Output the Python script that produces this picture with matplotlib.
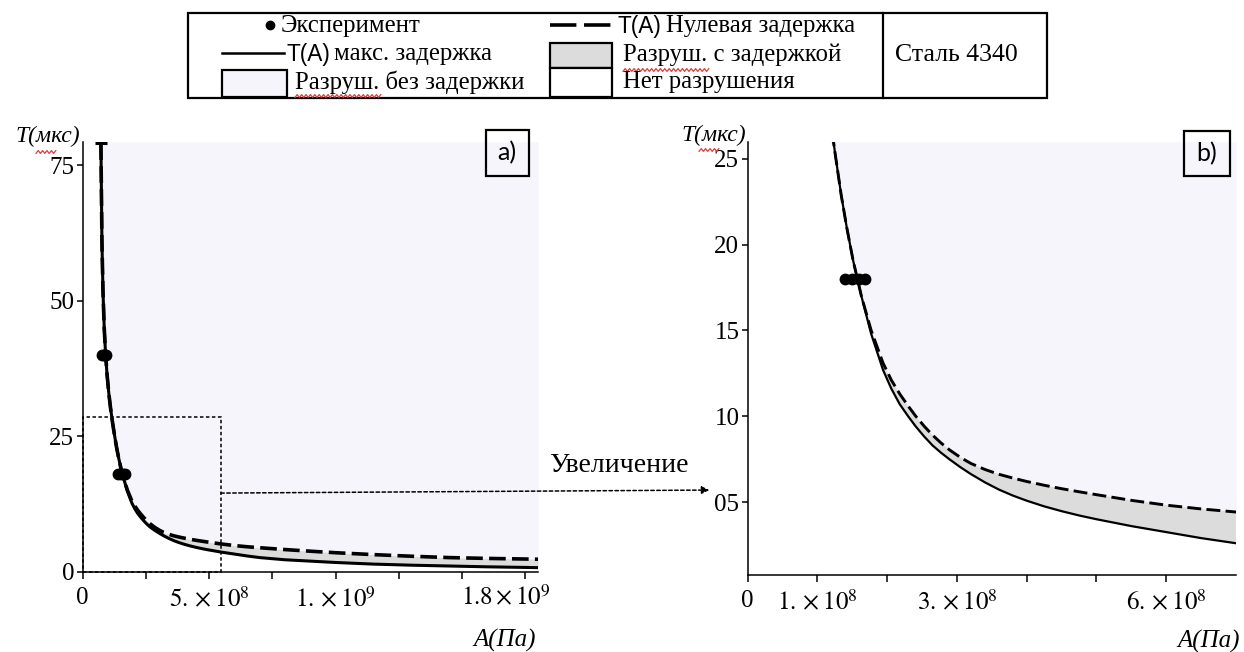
import numpy as np
import matplotlib.pyplot as plt
from matplotlib.lines import Line2D
from matplotlib.patches import Rectangle, ConnectionPatch

plt.rcParams['font.family'] = ['Liberation Serif', 'DejaVu Serif']
plt.rcParams['mathtext.fontset'] = 'stix'
plt.rcParams['lines.scale_dashes'] = False

W, H = 1244, 652

# amplitude A in units of 1e8 Pa, time T in microseconds
amp = [0.72, 0.76, 0.80, 0.85, 0.90, 0.96, 1.03, 1.10, 1.18, 1.25, 1.34, 1.42,
       1.51, 1.63, 1.77, 1.94, 2.06, 2.18, 2.30, 2.41, 2.53, 2.65, 2.77, 2.89,
       3.05, 3.20, 3.40, 3.60, 3.80, 4.00, 4.25, 4.50, 4.75, 5.00, 5.50, 6.00,
       6.50, 7.00, 8.00, 9.00, 10.0, 11.5, 13.0, 14.5, 16.0, 18.0]
t_max = [79.0, 61.0, 52.0, 45.0, 40.5, 36.5, 33.0, 30.2, 27.5, 25.4, 22.9, 21.0,
         19.1, 17.0, 14.8, 12.7, 11.6, 10.7, 10.0, 9.4, 8.82, 8.3, 7.88, 7.5,
         7.03, 6.63, 6.15, 5.73, 5.38, 5.08, 4.75, 4.47, 4.22, 4.0, 3.6, 3.25,
         2.9, 2.6, 2.2, 1.95, 1.7, 1.4, 1.2, 1.05, 0.9, 0.75]
t_zero = [79.0, 61.0, 52.0, 45.0, 40.5, 36.5, 33.0, 30.2, 27.5, 25.4, 22.9, 21.0,
          19.1, 17.0, 15.0, 13.1, 12.1, 11.3, 10.6, 10.0, 9.42, 8.9, 8.45, 8.05,
          7.6, 7.25, 6.9, 6.62, 6.4, 6.2, 5.98, 5.78, 5.6, 5.43, 5.1, 4.82,
          4.6, 4.42, 4.08, 3.78, 3.5, 3.15, 2.85, 2.6, 2.45, 2.3]

exp_amp = [0.75, 0.84, 0.93, 1.40, 1.50, 1.60, 1.68]
exp_t = [40, 40, 40, 18, 18, 18, 18]

ticks_a = [0, 2.5e8, 5e8, 7.5e8, 1e9, 1.25e9, 1.5e9, 1.75e9]
labels_a = ['0', '', r'$5.\times10^{8}$', '', r'$1.\times10^{9}$', '', '', '']
ticks_b = [0, 1e8, 2e8, 3e8, 4e8, 5e8, 6e8]
labels_b = ['0', r'$1.\times10^{8}$', '', r'$3.\times10^{8}$', '', '', r'$6.\times10^{8}$']

LAV = '#f6f5fc'
GREY = '#dcdcdc'
SQUIG = '#e03a3a'
TICK_FS = 18
LEG_FS = 17.8

fig = plt.figure(figsize=(W / 100, H / 100), dpi=100)


def fx(x):
    return x / W


def fy(y):
    return 1 - y / H


def axes_px(left, top, right, bottom):
    return fig.add_axes([fx(left), fy(bottom), (right - left) / W, (bottom - top) / H])


def squiggle(x0, x1, y, step=2.2, amp_px=1.4):
    xs = np.arange(x0, x1, step)
    ys = y + amp_px * np.where(np.arange(len(xs)) % 2 == 0, 1, -1)
    fig.add_artist(Line2D(fx(xs), fy(ys), color=SQUIG, lw=0.9))


def panel(ax, xmax, ymin, ymax, lw_s, lw_d, dash, xticks, xlabels, yticks, ylabels):
    A = np.array(amp) * 1e8
    tm = np.array(t_max)
    tz = np.array(t_zero)
    ax.fill_between(A, np.minimum(tz, ymax), ymax, color=LAV, lw=0)
    ax.fill_between(A, tm, tz, color=GREY, lw=0)
    ax.plot(A, tm, color='black', lw=lw_s)
    ax.plot(A, tz, color='black', lw=lw_d, dashes=dash)
    ax.plot(np.array(exp_amp) * 1e8, exp_t, 'o', color='black', ms=7.5)
    ax.set_xlim(0, xmax)
    ax.set_ylim(ymin, ymax)
    for s in ('top', 'right'):
        ax.spines[s].set_visible(False)
    for s in ('left', 'bottom'):
        ax.spines[s].set_linewidth(1.1)
    ax.set_xticks(xticks)
    ax.set_xticklabels(xlabels)
    ax.set_yticks(yticks)
    ax.set_yticklabels(ylabels)
    ax.tick_params(axis='x', direction='out', length=5, width=1.1, pad=6, labelsize=TICK_FS)
    ax.tick_params(axis='y', direction='out', length=4, width=1.1, pad=2, labelsize=TICK_FS)


ax_a = axes_px(82.7, 141.7, 538, 571.7)
panel(ax_a, 1.8e9, 0, 79.3, 2.2, 2.6, (12, 4.5), ticks_a, labels_a,
      [0, 25, 50, 75], ['0', '25', '50', '75'])
ax_a.plot(amp[0] * 1e8, t_max[0], marker='_', color='black', ms=9, mew=2.2)
ax_a.annotate(r'$1.8\times10^{9}$', xy=(16.75e8, 0), xycoords=ax_a.get_xaxis_transform(),
              xytext=(0, -9.5), textcoords='offset points', ha='center', va='top',
              fontsize=TICK_FS)

ax_b = axes_px(747.7, 141.7, 1236, 575)
panel(ax_b, 7e8, 0.75, 26, 1.6, 2.1, (10, 3.8), ticks_b, labels_b,
      [5, 10, 15, 20, 25], ['05', '10', '15', '20', '25'])

# zoom frame on panel a and the arrow to panel b
ax_a.add_patch(Rectangle((0, 0), 5.46e8, 28.6, fill=False, lw=1.1, ls=(0, (2.5, 1.8)),
                         color='black', clip_on=False))
con = ConnectionPatch(xyA=(5.46e8, 14.5), coordsA=ax_a.transData,
                      xyB=(-0.55e8, 5.7), coordsB=ax_b.transData,
                      arrowstyle='-|>', mutation_scale=11, lw=1.1, ls=(0, (2.5, 1.8)),
                      color='black', fc='black')
fig.add_artist(con)
fig.text(fx(549), fy(466), 'Увеличение', fontsize=20, ha='left', va='center')

# axis titles
for xr, yc in ((80, 136), (746, 135)):
    fig.text(fx(xr), fy(yc), 'T(мкс)', fontsize=17, style='italic', ha='right', va='center')
squiggle(36, 57, 152)
squiggle(699, 719, 150)
fig.text(fx(536), fy(640), 'A(Па)', fontsize=18, style='italic', ha='right', va='center')
fig.text(fx(1240), fy(641), 'A(Па)', fontsize=18, style='italic', ha='right', va='center')

# panel tags
for (l, t, r, b), tag in (((485.7, 130.4, 528.6, 175.7), 'a)'),
                          ((1183.6, 130.6, 1229.6, 176.3), 'b)')):
    fig.add_artist(Rectangle((fx(l), fy(b)), (r - l) / W, (b - t) / H,
                             transform=fig.transFigure, fill=False, lw=1.6, color='black'))
    fig.text(fx((l + r) / 2), fy((t + b) / 2), tag, family='Lato', fontsize=18,
             ha='center', va='center')

# legend panel
fig.add_artist(Rectangle((fx(188), fy(98.3)), (1047 - 188) / W, (98.3 - 12.7) / H,
                         transform=fig.transFigure, fill=False, lw=1.6, color='black'))
fig.add_artist(Line2D([fx(883), fx(883)], [fy(12.7), fy(98.3)], color='black', lw=1.6))

renderer = fig.canvas.get_renderer()


def two_font_label(x, y, head, tail, size=LEG_FS):
    t1 = fig.text(fx(x), fy(y), head, family='Liberation Sans', fontsize=size - 1.5,
                  ha='left', va='center')
    bb = t1.get_window_extent(renderer=renderer)
    fig.text(fx(bb.x1 + 4), fy(y), tail, fontsize=size, ha='left', va='center')


fig.add_artist(Line2D([fx(269.8)], [fy(25)], marker='o', ms=6, color='black'))
fig.text(fx(281), fy(26), 'Эксперимент', fontsize=LEG_FS, ha='left', va='center')

fig.add_artist(Line2D([fx(550), fx(612)], [fy(25), fy(25)], color='black', lw=2.6,
                      dashes=(19, 5.5)))
two_font_label(617.7, 26, 'T(A)', 'Нулевая задержка')

fig.add_artist(Line2D([fx(222), fx(284)], [fy(53), fy(53)], color='black', lw=1.8))
two_font_label(286.6, 54, 'T(A)', 'макс. задержка')

fig.add_artist(Rectangle((fx(550), fy(68)), 62 / W, 25 / H, transform=fig.transFigure,
                         fc=GREY, ec='black', lw=1.6))
fig.text(fx(623), fy(55), 'Разруш. с задержкой', fontsize=LEG_FS, ha='left', va='center')
squiggle(623, 710, 70)

fig.add_artist(Rectangle((fx(222), fy(97)), 64.6 / W, 27 / H, transform=fig.transFigure,
                         fc=LAV, ec='black', lw=1.6))
fig.text(fx(295), fy(82), 'Разруш. без задержки', fontsize=LEG_FS, ha='left', va='center')
squiggle(295, 382, 96)

fig.add_artist(Rectangle((fx(550), fy(97)), 62 / W, 29 / H, transform=fig.transFigure,
                         fc='white', ec='black', lw=1.6))
fig.text(fx(623), fy(82), 'Нет разрушения', fontsize=LEG_FS, ha='left', va='center')

fig.text(fx(895), fy(55), 'Сталь 4340', fontsize=18.5, ha='left', va='center')

fig.savefig('out.png', dpi=100)
